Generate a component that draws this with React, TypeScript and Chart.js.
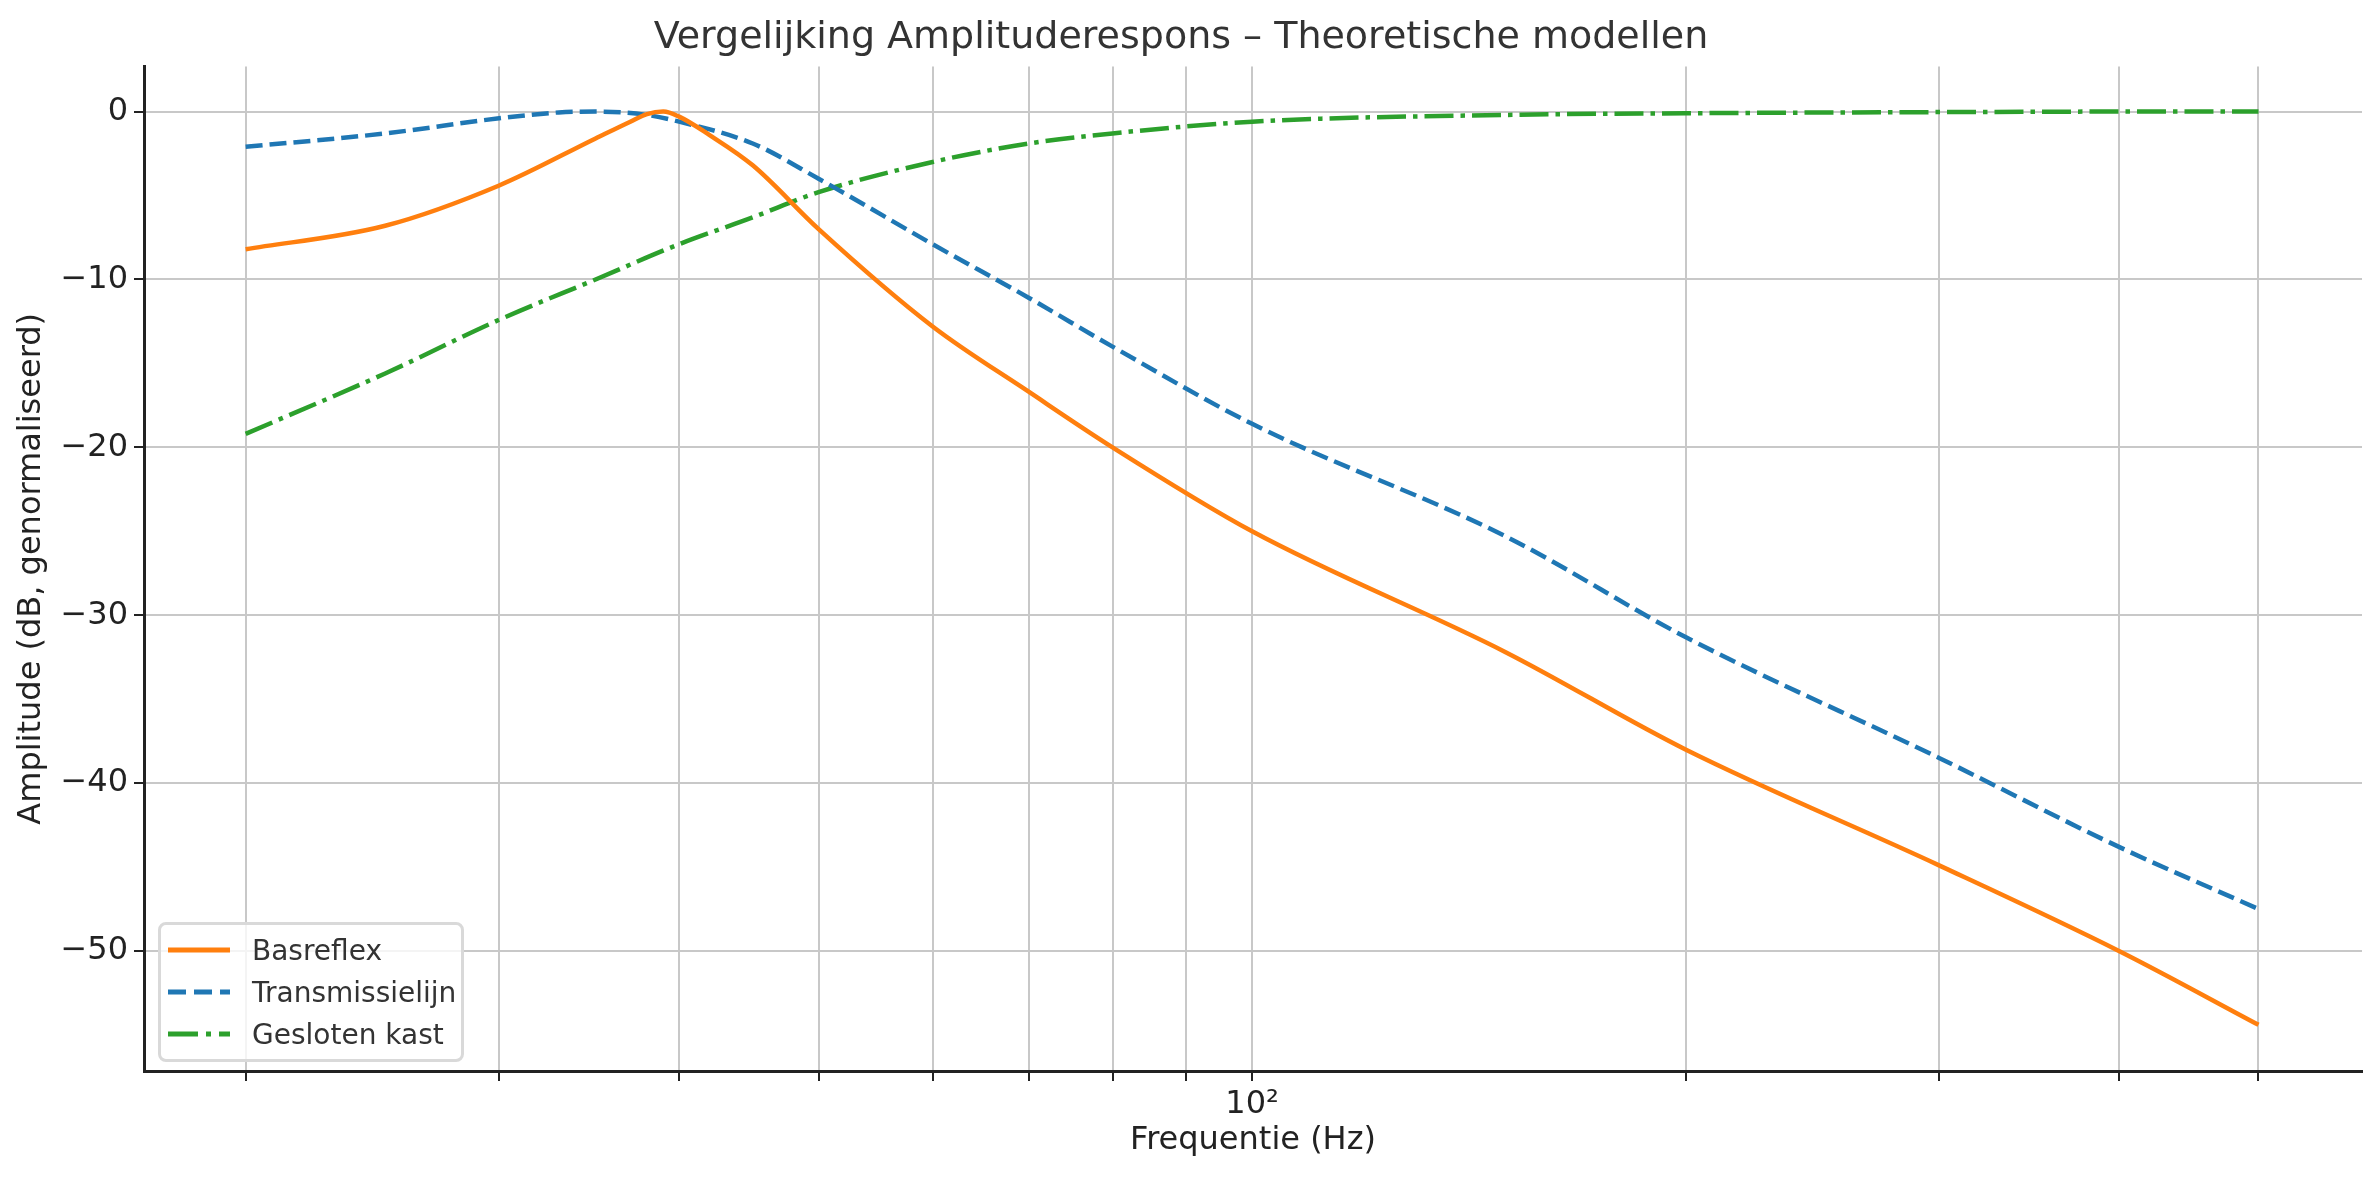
import React, { useEffect, useRef } from "react";
import { Chart, registerables } from "chart.js";
Chart.register(...registerables);

const freqBas = [20, 25, 30, 35, 37, 38, 39, 40, 42, 45, 50, 60, 70, 80, 100, 150, 200, 300, 400, 500];
const basreflex = [-8.2, -6.8, -4.4, -1.6, -0.6, -0.15, 0, -0.3, -1.4, -3.2, -7.0, -12.8, -16.7, -20.0, -25.0, -32.2, -38.0, -44.9, -50.0, -54.4];
const freqTl = [20, 25, 30, 33, 35, 38, 40, 45, 50, 60, 70, 80, 100, 150, 200, 300, 400, 500];
const transmissielijn = [-2.1, -1.3, -0.4, -0.05, 0, -0.2, -0.6, -1.9, -4.0, -7.9, -11.1, -14.0, -18.6, -25.3, -31.3, -38.5, -43.8, -47.5];
const freqGk = [20, 25, 30, 35, 40, 45, 50, 60, 70, 80, 100, 150, 200, 300, 400, 500];
const geslotenKast = [-19.2, -15.6, -12.4, -10.0, -7.9, -6.3, -4.8, -3.0, -1.9, -1.3, -0.6, -0.2, -0.1, -0.03, 0, 0];
const xGridTicks = [20, 30, 40, 50, 60, 70, 80, 90, 100, 200, 300, 400, 500];
const yTicks = [-50, -40, -30, -20, -10, 0];

const FONT = "'DejaVu Sans', sans-serif";
const pts = (xs: number[], ys: number[]) => xs.map((x, i) => ({ x, y: ys[i] }));

export default function App() {
  const ref = useRef<HTMLCanvasElement>(null);
  useEffect(() => {
    const chart = new Chart(ref.current!, {
      type: "line",
      data: {
        datasets: [
          { label: "Basreflex", data: pts(freqBas, basreflex), borderColor: "#ff7f0e", borderWidth: 4.5, pointRadius: 0, cubicInterpolationMode: "monotone" },
          { label: "Transmissielijn", data: pts(freqTl, transmissielijn), borderColor: "#1f77b4", borderWidth: 4.5, borderDash: [17, 7], pointRadius: 0, cubicInterpolationMode: "monotone" },
          { label: "Gesloten kast", data: pts(freqGk, geslotenKast), borderColor: "#2ca02c", borderWidth: 4.5, borderDash: [29, 7, 4.5, 7], pointRadius: 0, cubicInterpolationMode: "monotone" },
        ],
      },
      options: {
        animation: false,
        responsive: false,
        layout: { padding: { left: 0, right: 17, top: 0, bottom: 0 } },
        plugins: {
          legend: { display: false },
          tooltip: { enabled: false },
          title: { display: true, text: "Vergelijking Amplituderespons – Theoretische modellen", color: "#333", font: { family: FONT, size: 38, weight: "normal" }, padding: { top: 15, bottom: 6 } },
        },
        scales: {
          x: {
            type: "logarithmic", min: 17, max: 590,
            afterBuildTicks: (s: any) => { s.ticks = xGridTicks.map((v) => ({ value: v })); },
            afterFit: (s: any) => { s.height = 109; },
            ticks: { autoSkip: false, maxRotation: 0, color: "#222", font: { family: FONT, size: 32 }, padding: 4, callback: (v: any) => (Number(v) === 100 ? "10²" : "") },
            grid: { color: "#c8c8c8", lineWidth: 2, borderDash: [2, 4], tickColor: "#222", tickLength: 10, tickWidth: 2 },
            border: { display: true, color: "#222", width: 3 },
            title: { display: true, text: "Frequentie (Hz)", color: "#222", font: { family: FONT, size: 32 }, padding: { top: 0, bottom: 20 } },
          },
          y: {
            min: -57.15, max: 2.68,
            afterBuildTicks: (s: any) => { s.ticks = yTicks.map((v) => ({ value: v })); },
            afterFit: (s: any) => { s.width = 144; },
            ticks: { color: "#222", font: { family: FONT, size: 32 }, padding: 6, callback: (v: any) => String(v).replace("-", "−") },
            grid: { color: "#c8c8c8", lineWidth: 2, borderDash: [2, 4], tickColor: "#222", tickLength: 10, tickWidth: 2 },
            border: { display: true, color: "#222", width: 3 },
            title: { display: true, text: "Amplitude (dB, genormaliseerd)", color: "#222", font: { family: FONT, size: 32 }, padding: { top: 12, bottom: 0 } },
          },
        },
      },
    });
    return () => chart.destroy();
  }, []);

  const row = (label: string, color: string, dash: string) => (
    <div style={{ display: "flex", alignItems: "center", height: 42 }}>
      <svg width={70} height={20} style={{ marginLeft: 5 }}>
        <line x1={2} y1={10} x2={64} y2={10} stroke={color} strokeWidth={5} strokeDasharray={dash} />
      </svg>
      <span style={{ marginLeft: 16, fontSize: 28, color: "#333" }}>{label}</span>
    </div>
  );

  return (
    <div style={{ position: "fixed", left: 0, top: 0, width: 2379, height: 1180, background: "#fff", fontFamily: FONT }}>
      <canvas ref={ref} width={2379} height={1180} style={{ width: 2379, height: 1180 }} />
      <div style={{ position: "absolute", left: 158, top: 922, width: 300, height: 130, border: "3px solid #d9d9d9", borderRadius: 8, background: "rgba(255,255,255,0.8)", paddingTop: 4, boxSizing: "content-box" }}>
        {row("Basreflex", "#ff7f0e", "")}
        {row("Transmissielijn", "#1f77b4", "18 8")}
        {row("Gesloten kast", "#2ca02c", "30 8 5 8")}
      </div>
    </div>
  );
}
